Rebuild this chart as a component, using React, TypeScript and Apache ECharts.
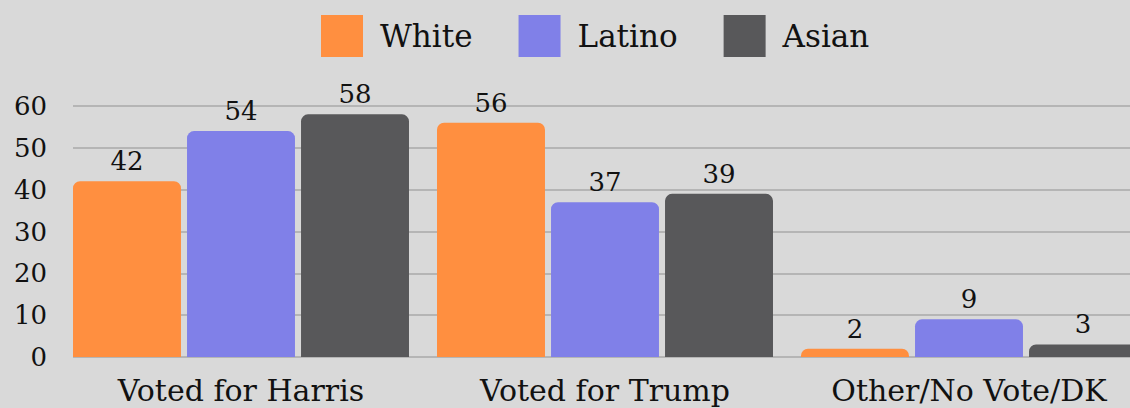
import React, { useEffect, useRef } from "react";
import * as echarts from "echarts";

const categories = ["Voted for Harris", "Voted for Trump", "Other/No Vote/DK"];
const seriesNames = ["White", "Latino", "Asian"];
const whiteValues = [42, 56, 2];
const latinoValues = [54, 37, 9];
const asianValues = [58, 39, 3];
const colors = ["#FF8F40", "#8080E8", "#58585A"];
const FONT = "DejaVu Serif";

export default function App() {
  const ref = useRef<HTMLDivElement>(null);
  useEffect(() => {
    document.body.style.margin = "0";
    document.body.style.overflow = "hidden";
    const chart = echarts.init(ref.current!, null, { renderer: "svg" });
    const values = [whiteValues, latinoValues, asianValues];
    chart.setOption({
      animation: false,
      backgroundColor: "#D9D9D9",
      textStyle: { fontFamily: FONT },
      legend: {
        top: 10,
        left: 316,
        itemWidth: 42,
        itemHeight: 42,
        itemGap: 46,
        icon: "rect",
        textStyle: { fontFamily: FONT, fontSize: 31, color: "#111", padding: [0, 0, 0, 12] },
        data: seriesNames,
      },
      grid: [
        { left: 59, top: 106, right: 9, bottom: 51, containLabel: false },
        { left: 73, top: 106, right: 9, bottom: 51, containLabel: false },
      ],
      xAxis: [
        {
          type: "category",
          gridIndex: 0,
          data: categories,
          axisTick: { show: false },
          axisLine: { show: false },
          axisLabel: { fontFamily: FONT, fontSize: 30, color: "#111", margin: 18 },
        },
        {
          type: "value",
          gridIndex: 1,
          show: false,
        },
      ],
      yAxis: [
        {
          type: "value",
          gridIndex: 0,
          min: 0,
          max: 60,
          interval: 10,
          axisLine: { show: false },
          axisTick: { show: false },
          axisLabel: { fontFamily: FONT, fontSize: 26, color: "#111", margin: 12 },
          splitLine: { show: false },
        },
        {
          type: "value",
          gridIndex: 1,
          min: 0,
          max: 60,
          interval: 10,
          axisLine: { show: false },
          axisTick: { show: false },
          axisLabel: { show: false },
          splitLine: { lineStyle: { color: "#A8A8A8", width: 1.5 } },
        },
      ],
      series: seriesNames.map((name, i) => ({
        name,
        type: "bar",
        xAxisIndex: 0,
        yAxisIndex: 0,
        data: values[i],
        barGap: "5.6%",
        barCategoryGap: "7.7%",
        itemStyle: { color: colors[i], borderRadius: [7, 7, 0, 0] },
        label: {
          show: true,
          position: "top",
          distance: 7,
          fontFamily: FONT,
          fontSize: 26,
          color: "#111",
        },
      })),
    });
    return () => chart.dispose();
  }, []);
  return <div ref={ref} style={{ position: "fixed", left: 0, top: 0, width: 1160, height: 408 }} />;
}
